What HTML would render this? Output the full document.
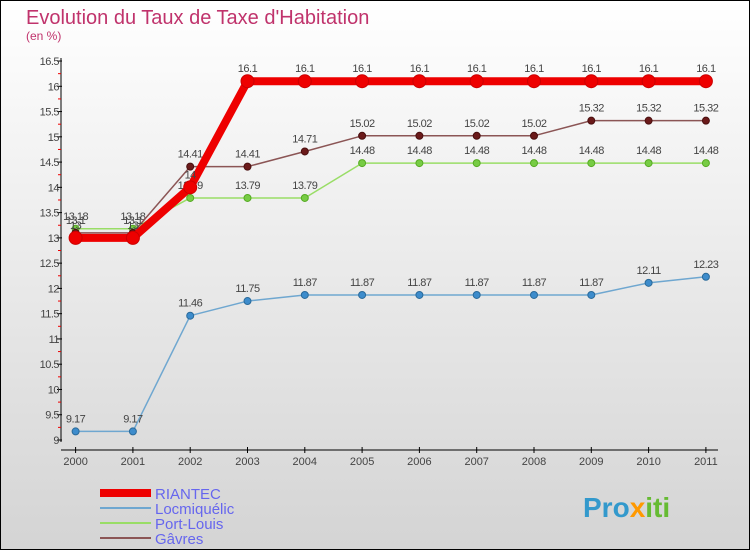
<!DOCTYPE html>
<html><head><meta charset="utf-8"><style>
body{margin:0;}
svg{display:block;font-family:"Liberation Sans",sans-serif;}
</style></head><body>
<svg id="c" width="750" height="550" xmlns="http://www.w3.org/2000/svg">
<defs><linearGradient id="bg" x1="0" y1="0" x2="0" y2="1"><stop offset="0" stop-color="#ffffff"/><stop offset="1" stop-color="#d4d4d4"/></linearGradient></defs>
<rect x="0.5" y="0.5" width="749" height="549" fill="url(#bg)" stroke="#000"/>
<text x="26" y="24" font-size="20" fill="#c0336c">Evolution du Taux de Taxe d'Habitation</text>
<text x="26" y="40" font-size="12" fill="#c0336c">(en %)</text>
<g id="axes"></g><g id="series"></g>
<g>
<rect x="100" y="489" width="51" height="8" fill="#ee0000"/>
<line x1="100" y1="508" x2="151" y2="508" stroke="#6fa7d0" stroke-width="2"/>
<line x1="100" y1="523" x2="151" y2="523" stroke="#99dd66" stroke-width="2"/>
<line x1="100" y1="538" x2="151" y2="538" stroke="#8b5555" stroke-width="2"/>
<text x="155" y="499" font-size="15" fill="#6666ee">RIANTEC</text>
<text x="155" y="514" font-size="15" fill="#6666ee">Locmiquélic</text>
<text x="155" y="529" font-size="15" fill="#6666ee">Port-Louis</text>
<text x="155" y="544" font-size="15" fill="#6666ee">Gâvres</text>
</g>
<text x="583" y="517" font-size="28" font-weight="bold"><tspan fill="#3399cc">Pro</tspan><tspan fill="#ff9900">x</tspan><tspan fill="#66bb33">iti</tspan></text>
</svg>
<script>
const years=["2000","2001","2002","2003","2004","2005","2006","2007","2008","2009","2010","2011"];
const yTicks=[9,9.5,10,10.5,11,11.5,12,12.5,13,13.5,14,14.5,15,15.5,16,16.5];
const riantec=[13,13,14,16.1,16.1,16.1,16.1,16.1,16.1,16.1,16.1,16.1];
const locmiquelic=[9.17,9.17,11.46,11.75,11.87,11.87,11.87,11.87,11.87,11.87,12.11,12.23];
const portLouis=[13.18,13.18,13.79,13.79,13.79,14.48,14.48,14.48,14.48,14.48,14.48,14.48];
const gavres=[13.1,13.1,14.41,14.41,14.71,15.02,15.02,15.02,15.02,15.32,15.32,15.32];
const NS="http://www.w3.org/2000/svg";
const xs=i=>75.6+i*57.3;
const ys=v=>440-(v-9)*50.53;
function mk(p,t,a){const e=document.createElementNS(NS,t);for(const k in a)e.setAttribute(k,a[k]);p.appendChild(e);return e;}
const ax=document.getElementById('axes');
let e=mk(ax,'line',{x1:61,y1:58,x2:61,y2:442,stroke:'#000'});


e=mk(ax,'line',{x1:61,y1:450,x2:718,y2:450,stroke:'#000'});


yTicks.forEach((v,i)=>{const y=ys(v);
mk(ax,'line',{x1:57,y1:y,x2:62,y2:y,stroke:'#000'});
if(i<yTicks.length-1)mk(ax,'line',{x1:58,y1:ys(v+0.25),x2:61,y2:ys(v+0.25),stroke:'#e00'});
const t=mk(ax,'text',{x:59,y:y+4,'font-size':11,fill:'#444','text-anchor':'end','letter-spacing':'-0.5'});t.textContent=v;

});
years.forEach((yr,i)=>{const x=xs(i);mk(ax,'line',{x1:x,y1:447,x2:x,y2:453,stroke:'#000'});
const t=mk(ax,'text',{x:x,y:465,'font-size':11,fill:'#444','text-anchor':'middle'});t.textContent=yr;

});
const sg=document.getElementById('series');
function draw(name,vals,color,w,r,dot,dotStroke,labels){
const g=mk(sg,'g',{});


mk(g,'polyline',{points:vals.map((v,i)=>xs(i)+','+ys(v)).join(' '),fill:'none',stroke:color,'stroke-width':w,'stroke-linejoin':'round'});
vals.forEach((v,i)=>{const c=mk(g,'circle',{cx:xs(i),cy:ys(v),r:r,fill:dot,stroke:dotStroke,'stroke-width':1});


if(labels){const t=mk(g,'text',{x:xs(i),y:ys(v)-9,'font-size':11,fill:'#444','text-anchor':'middle','letter-spacing':'-0.5'});t.textContent=v;

}});
}
draw('locmiquelic',locmiquelic,'#6fa7d0',1.5,3.5,'#3d8ccc','#2a6a9a',true);
draw('port-louis',portLouis,'#99dd66',1.5,3.5,'#77cc44','#55aa22',true);
draw('gavres',gavres,'#8b5555',1.5,3.5,'#6b1a1a','#4a0f0f',true);
draw('riantec',riantec,'#ee0000',8,6.5,'#ee0000','#cc0000',true);
</script>
</body></html>
